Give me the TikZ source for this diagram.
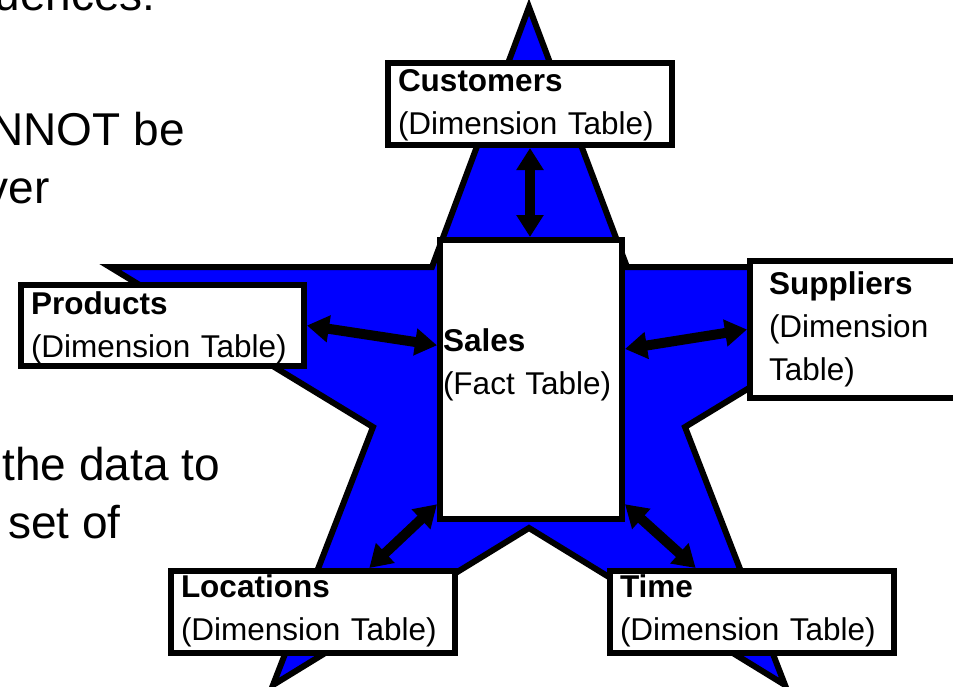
\documentclass[tikz,border=0pt]{standalone}
\usepackage{fontspec}
\setmainfont{Liberation Sans}
\usetikzlibrary{arrows.meta}

\begin{document}
\begin{tikzpicture}[x=1pt,y=-1pt,
    tbl/.style={draw,fill=white,line width=6pt,anchor=north west,align=left,
        inner xsep=10pt,inner ysep=0pt,font=\fontsize{31.5}{43}\selectfont},
    link/.style={line width=10pt,{Triangle[length=22pt,width=26pt]}-{Triangle[length=22pt,width=26pt]}},
    slide/.style={anchor=base east,inner sep=0pt,font=\fontsize{46}{56}\selectfont}]
    \path[use as bounding box,clip] (0,0) rectangle (953,686);
    % slide text behind the star
    \node[slide] (l1) at (156,10) {quences:};
    \node[slide] (l2) at (185,145) {NNOT be};
    \node[slide] (l3) at (50,203) {ver};
    \node[slide] (l4) at (220,480) {the data to};
    \node[slide] (l5) at (121,538) {set of};
    % the star
    \draw[fill=blue,line width=6pt] (529,7) -- (627,267) -- (948,267) -- (685,427) -- (785,685)
        -- (529,528) -- (273,685) -- (373,427) -- (110,267) -- (432,267) -- cycle;
    % tables
    \node[tbl,text width=264pt,text height=28pt,text depth=54pt] (cust) at (385,60) {\textbf{Customers}\\(Dimension Table)};
    \node[tbl,inner xsep=3pt,text width=176pt,text height=111pt,text depth=168pt] (sales) at (437,237) {\textbf{Sales}\\(Fact Table)};
    \node[tbl,text width=263pt,text height=29pt,text depth=52pt] (prod) at (18,282) {\textbf{Products}\\(Dimension Table)};
    \node[tbl,inner xsep=19pt,text width=174pt,text height=33pt,text depth=104pt] (supp) at (747,258) {\textbf{Suppliers}\\(Dimension\\Table)};
    \node[tbl,text width=264pt,text height=26pt,text depth=56pt] (loc) at (168,568) {\textbf{Locations}\\(Dimension Table)};
    \node[tbl,text width=264pt,text height=26pt,text depth=56pt] (time) at (607,568) {\textbf{Time}\\(Dimension Table)};
    % links
    \draw[link] (cust.south) -- (cust.south |- sales.north);
    \draw[link] (prod.east) -- (sales.160.6);
    \draw[link] (sales.18.3) -- (supp.west);
    \draw[link] (sales.233.5) -- (loc.38);
    \draw[link] (sales.-53.3) -- (time.142.5);
\end{tikzpicture}
\end{document}
